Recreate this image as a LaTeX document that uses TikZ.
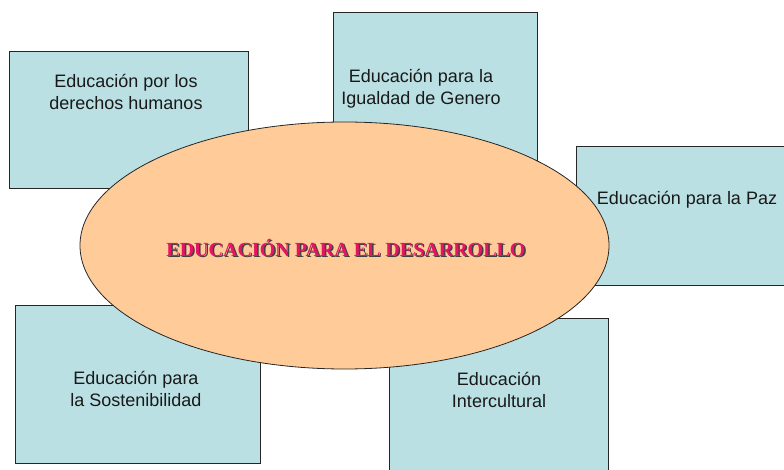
\documentclass[tikz,border=0pt]{standalone}
\usepackage{fontspec}
\setmainfont{Liberation Sans}
\newfontfamily\titlefont{Liberation Serif}
\usepackage{xcolor}
\usetikzlibrary{shapes.geometric,positioning}
\definecolor{cajaazul}{RGB}{186,224,227}
\definecolor{melocoton}{RGB}{255,204,153}
\definecolor{rosatitulo}{RGB}{230,20,100}

\begin{document}
\begin{tikzpicture}[x=1pt,y=-1pt,
        caja/.style={draw=black!85, line width=0.8pt, fill=cajaazul, inner sep=0pt},
        texto/.style={align=center, inner sep=0pt, text=black!90, font=\fontsize{18}{21.6}\selectfont},
        titulo/.style={inner sep=0pt, font=\titlefont\bfseries\fontsize{20}{24}\selectfont}]
        \useasboundingbox (0,0) rectangle (784,470);
        \clip (0,0) rectangle (784,470);

        % cajas de fondo
        \node[caja, minimum width=239pt, minimum height=137pt] (derechos) at (128.5,119.5) {};
        \node[caja, minimum width=204pt, minimum height=168pt] (genero) at (435,96) {};
        \node[caja, minimum width=224pt, minimum height=139pt] (paz) at (688,215.5) {};
        \node[caja, minimum width=245pt, minimum height=158pt] (sostenible) at (137.5,384) {};
        \node[caja, minimum width=219pt, minimum height=162pt] (intercultural) at (498.5,399) {};

        % elipse central
        \node[ellipse, draw=black!85, line width=0.8pt, fill=melocoton, minimum width=529pt, minimum height=247pt] (desarrollo) at (344.5,245.5) {};

        \node[texto] (t-derechos) at (126,92) {Educación por los\\derechos humanos};
        \node[texto] (t-genero) at (421,89) {Educación para la\\Igualdad de Genero};
        \node[texto] (t-paz) at (687,200) {Educación para la Paz};
        \node[texto] (t-sostenible) at (136,389) {Educación para\\la Sostenibilidad};
        \node[texto] (t-intercultural) at (499,390) {Educación\\Intercultural};

        \node[titulo, text=black!75] (sombra) at (347.5,249.5) {EDUCACIÓN PARA EL DESARROLLO};
        \node[titulo, text=rosatitulo] (titulo) at (346,248) {EDUCACIÓN PARA EL DESARROLLO};
    \end{tikzpicture}
\end{document}
